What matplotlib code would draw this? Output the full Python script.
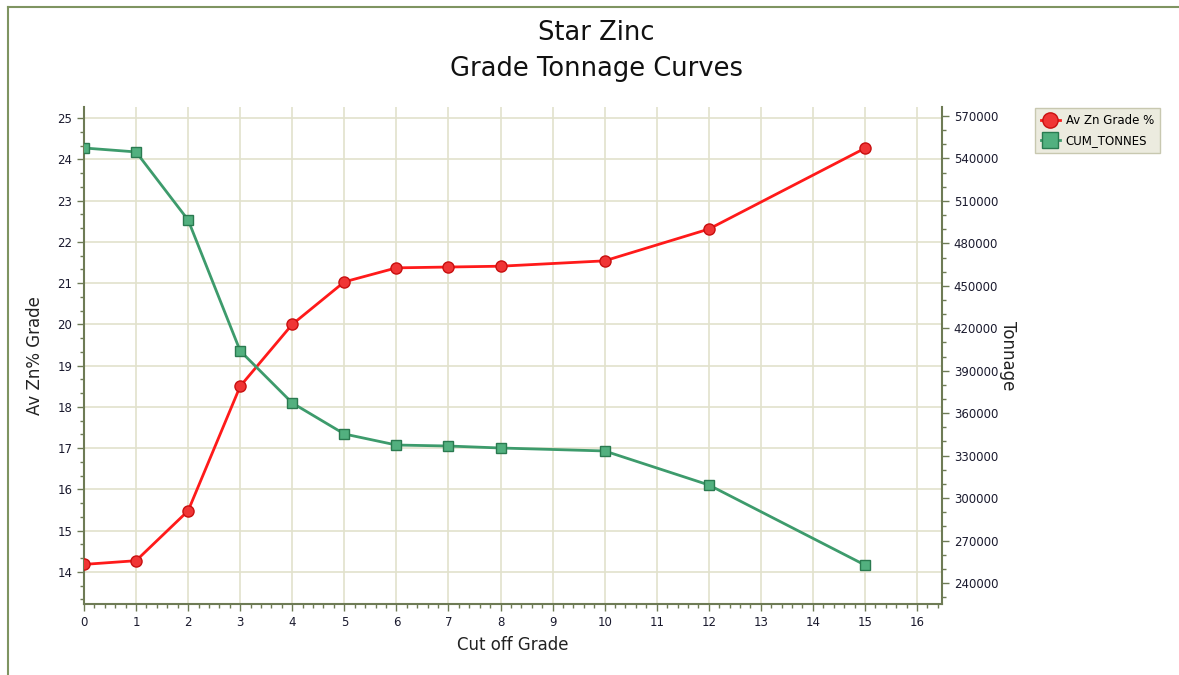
import matplotlib

matplotlib.use("Agg")
import matplotlib.pyplot as plt
from matplotlib.lines import Line2D
from matplotlib.ticker import MultipleLocator

plt.rcParams["font.family"] = ["DejaVu Sans"]

# values
cutoff = [0, 1, 2, 3, 4, 5, 6, 7, 8, 10, 12, 15]
av_grade = [14.18, 14.27, 15.48, 18.5, 20.0, 21.03, 21.37, 21.39, 21.41, 21.54, 22.31, 24.27]
cum_tonnes = [547400, 544600, 496500, 404000, 367200, 345300, 337500, 336800, 335400,
              333300, 309300, 252700]

SPINE = "#6e7b55"
GRID = "#e2e2cc"
TXT = "#1a1a2e"
RED = "#ff1a1a"
GREEN = "#3d9b6c"

fig = plt.figure(figsize=(11.79, 6.75), dpi=100)
ax = fig.add_axes([84 / 1179, 1 - 604 / 675, (942 - 84) / 1179, (604 - 107) / 675])
ax2 = ax.twinx()

ax.plot(cutoff, av_grade, color=RED, lw=2, marker="o", ms=8,
        mfc="#f03535", mec="#c81010", mew=1, zorder=3)
ax2.plot(cutoff, cum_tonnes, color=GREEN, lw=2, marker="s", ms=7,
         mfc="#52b07f", mec="#2a7a50", mew=1, zorder=3)

ax.set_xlim(0, 16.48)
ax.set_ylim(13.22, 25.27)
ax2.set_ylim(225160, 576360)

ax.xaxis.set_major_locator(MultipleLocator(1))
ax.xaxis.set_minor_locator(MultipleLocator(0.2))
ax.yaxis.set_major_locator(MultipleLocator(1))
ax.yaxis.set_minor_locator(MultipleLocator(1 / 3))
ax2.yaxis.set_major_locator(MultipleLocator(30000))
ax2.yaxis.set_minor_locator(MultipleLocator(10000))

ax.grid(True, which="major", color=GRID, lw=1.2)
ax.set_axisbelow(True)

for a in (ax, ax2):
    for s in a.spines.values():
        s.set_visible(False)
    a.tick_params(which="both", colors=SPINE, labelcolor=TXT, labelsize=8.5, direction="out")
    a.tick_params(which="major", length=5, width=1)
    a.tick_params(which="minor", length=3, width=1)
ax.spines["left"].set_visible(True)
ax.spines["bottom"].set_visible(True)
ax2.spines["right"].set_visible(True)
for s in (ax.spines["left"], ax.spines["bottom"], ax2.spines["right"]):
    s.set_color(SPINE)
    s.set_linewidth(1.5)

ax.set_xlabel("Cut off Grade", fontsize=12, color="#222222", va="center")
ax.set_ylabel("Av Zn% Grade", fontsize=12, color="#222222")
ax2.set_ylabel("Tonnage", fontsize=12, color="#222222", rotation=-90, va="center")
ax.xaxis.set_label_coords(0.5, -0.083)
ax.yaxis.set_label_coords(-0.047, 0.5)
ax2.yaxis.set_label_coords(1.077, 0.5)

fig.text(596 / 1179, 1 - 51 / 675, "Star Zinc\nGrade Tonnage Curves", ha="center",
         va="center", fontsize=18.5, color="#111111", linespacing=1.45)

handles = [
    Line2D([], [], color=RED, lw=2, marker="o", ms=11, mfc="#f03535", mec="#c81010"),
    Line2D([], [], color=GREEN, lw=2, marker="s", ms=11, mfc="#52b07f", mec="#2a7a50"),
]
leg = fig.legend(handles, ["Av Zn Grade %", "CUM_TONNES"], loc="upper left",
                 bbox_to_anchor=(1029 / 1179, 1 - 102 / 675), fontsize=8.5,
                 frameon=True, fancybox=False, handlelength=1.6, borderpad=0.5,
                 labelspacing=0.6, handletextpad=0.5)
leg.get_frame().set_facecolor("#ecebdf")
leg.get_frame().set_edgecolor("#c8c8b0")
leg.get_frame().set_alpha(1)

# outer frame (left and top edges)
fig.add_artist(Line2D([8 / 1179, 8 / 1179], [0, 1 - 7 / 675], transform=fig.transFigure,
                      color="#7f9461", lw=1.5))
fig.add_artist(Line2D([8 / 1179, 1], [1 - 7 / 675, 1 - 7 / 675], transform=fig.transFigure,
                      color="#7f9461", lw=1.5))

fig.savefig("out.png", dpi=100)
